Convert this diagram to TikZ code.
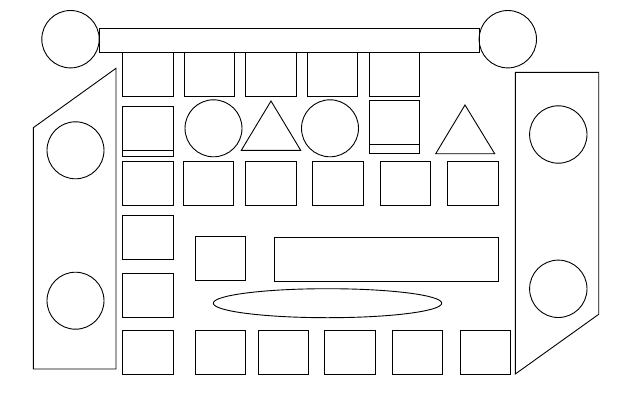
\documentclass[tikz,border=0pt]{standalone}
\begin{document}
\begin{tikzpicture}[x=1pt,y=-1pt,
  outl/.style={draw=black,line width=0.9pt,line join=miter}]
\useasboundingbox (0,0) rectangle (621,402);
% top bar and end circles
\draw[outl] (99.3,28.3) rectangle (479,52.3);
\draw[outl] (70.5,39.2) circle[radius=28.7];
\draw[outl] (507.8,39.2) circle[radius=28.7];
% left panel
\draw[outl] (116,68.3) -- (33.3,127.7) -- (33.3,369) -- (116,369) -- cycle;
\draw[outl] (75.5,150.3) circle[radius=28.5];
\draw[outl] (75.5,300.7) circle[radius=28.5];
% right panel
\draw[outl] (515.3,72.3) -- (598.7,72.3) -- (598.7,314.3) -- (515.3,374) -- cycle;
\draw[outl] (558.3,134.5) circle[radius=28.7];
\draw[outl] (558.3,288.8) circle[radius=28.7];
% row 1
\foreach \x in {122.7,184.3,245.7,307,369.3}
  \draw[outl] (\x,52.3) rectangle ++(50.4,44.4);
% row 2
\draw[outl] (122.7,106) rectangle (173,156.7);
\draw[outl] (122.7,150.7) -- (173,150.7);
\draw[outl] (213.5,128.3) circle[radius=28.5];
\draw[outl] (271,101) -- (300.7,150.3) -- (241.3,150.3) -- cycle;
\draw[outl] (330,128.3) circle[radius=28.5];
\draw[outl] (369.3,100) rectangle (419.7,153.7);
\draw[outl] (369.3,144.3) -- (419.7,144.3);
\draw[outl] (465,105) -- (494.7,153.7) -- (435.7,153.7) -- cycle;
% row 3
\foreach \x in {122.7,183,245.7,312.7,380,447.7}
  \draw[outl] (\x,161.3) rectangle ++(50.4,44.4);
% left column
\draw[outl] (122.7,215.3) rectangle ++(50.4,44.5);
\draw[outl] (122.7,273) rectangle ++(50.4,44.4);
% middle
\draw[outl] (195.3,236.3) rectangle (245.7,280.7);
\draw[outl] (274.7,237) rectangle (498.3,281.3);
\draw[outl] (327.5,303.2) ellipse[x radius=114.2,y radius=14.5];
% bottom row
\foreach \x in {122.7,195.3,258,324.7,392.3,460.3}
  \draw[outl] (\x,330) rectangle ++(50.4,44);
\end{tikzpicture}
\end{document}
